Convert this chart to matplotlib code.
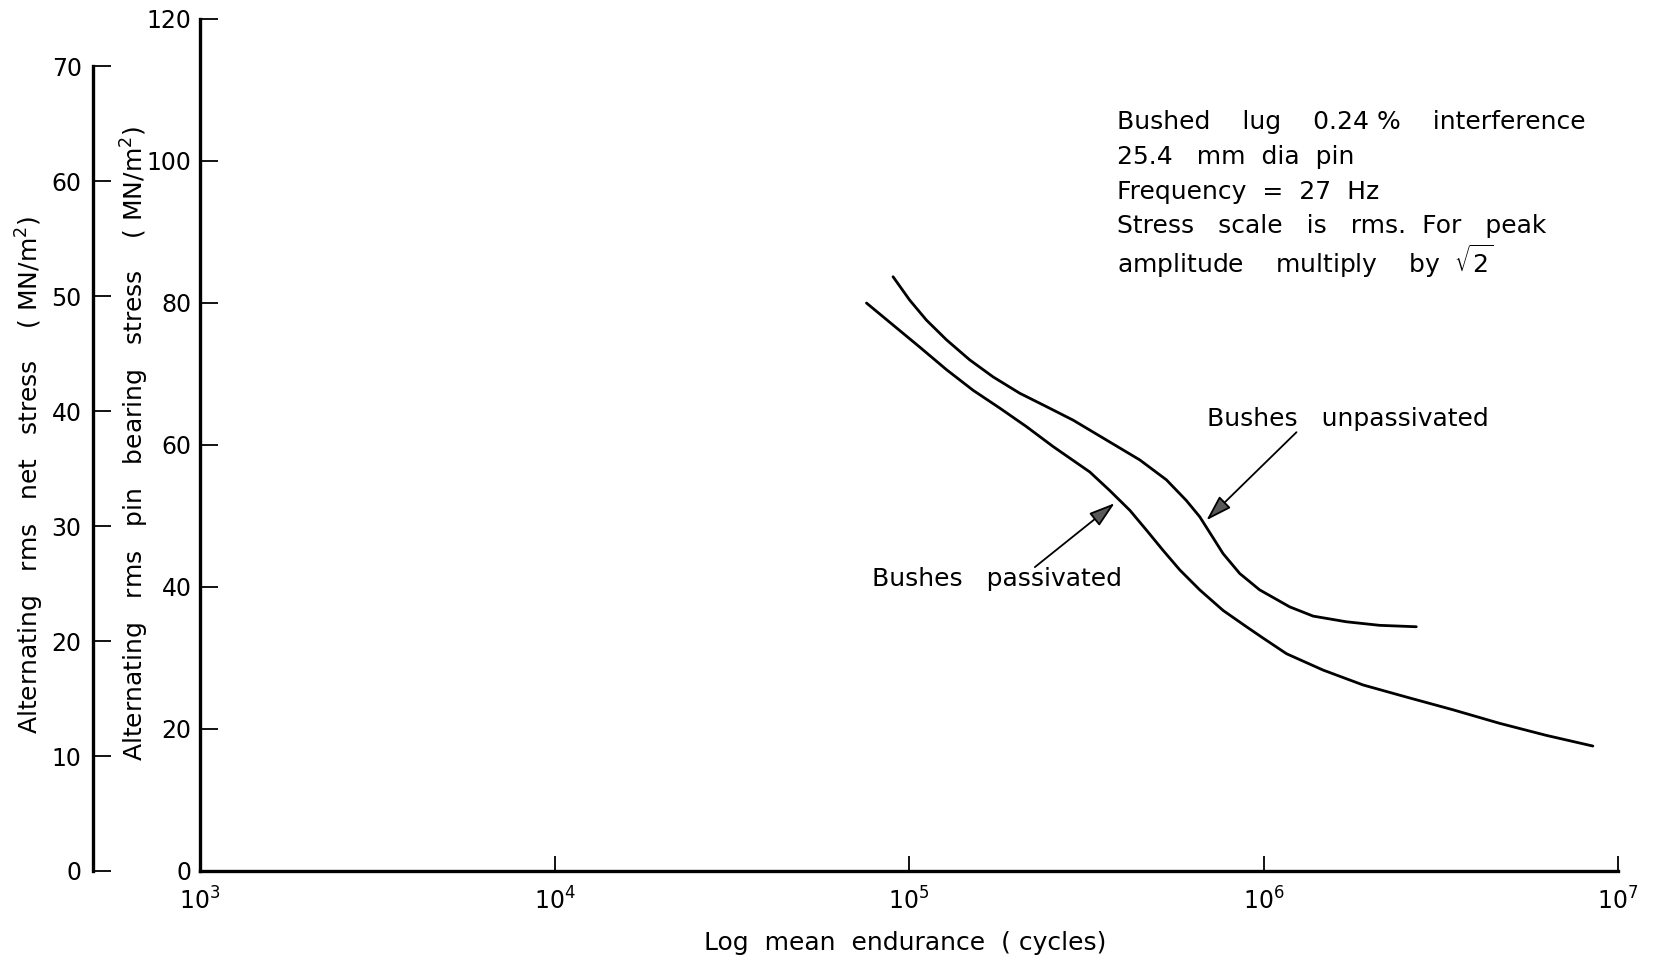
import numpy as np
import matplotlib
matplotlib.use("Agg")
import matplotlib.pyplot as plt
from matplotlib.patches import FancyArrowPatch

# ---- data ----
passivated_logN = [4.880, 4.955, 5.030, 5.106, 5.181, 5.256, 5.331, 5.406, 5.510, 5.566,
                   5.623, 5.670, 5.716, 5.764, 5.820, 5.886, 5.952, 5.999, 6.065, 6.168,
                   6.281, 6.403, 6.535, 6.666, 6.798, 6.929]
passivated_S = [80.0, 76.9, 73.8, 70.6, 67.7, 65.2, 62.6, 59.8, 56.2, 53.6,
                50.8, 48.0, 45.2, 42.4, 39.6, 36.7, 34.4, 32.8, 30.6, 28.3,
                26.2, 24.5, 22.7, 20.8, 19.1, 17.6]

unpassivated_logN = [4.955, 5.002, 5.049, 5.106, 5.171, 5.237, 5.312, 5.388, 5.463, 5.557,
                     5.651, 5.726, 5.782, 5.820, 5.848, 5.886, 5.933, 5.989, 6.074, 6.140,
                     6.234, 6.328, 6.431]
unpassivated_S = [83.7, 80.4, 77.6, 74.8, 72.0, 69.6, 67.3, 65.4, 63.5, 60.7,
                  57.9, 55.1, 52.2, 49.9, 47.7, 44.7, 41.9, 39.6, 37.2, 35.9,
                  35.1, 34.6, 34.4]

x_ticks = [1e3, 1e4, 1e5, 1e6, 1e7]
x_ticklabels = [r"$10^{3}$", r"$10^{4}$", r"$10^{5}$", r"$10^{6}$", r"$10^{7}$"]
bearing_ticks = [0, 20, 40, 60, 80, 100, 120]
net_ticks = [0, 10, 20, 30, 40, 50, 60, 70]

note_lines = [
    "Bushed    lug    0.24 %    interference",
    "25.4   mm  dia  pin",
    "Frequency  =  27  Hz",
    "Stress   scale   is   rms.  For   peak",
    r"amplitude    multiply    by  $\sqrt{2}$",
]

plt.rcParams['font.family'] = ['DejaVu Sans']
plt.rcParams['mathtext.fontset'] = 'dejavusans'
FS = 18
TFS = 17

W, H = 1653, 965
fig = plt.figure(figsize=(W / 100, H / 100), dpi=100)

left, right = 200 / W, 1618 / W
bottom, top = 1 - 871 / H, 1 - 19 / H
ax = fig.add_axes([left, bottom, right - left, top - bottom])

passivated_N = [10 ** v for v in passivated_logN]
unpassivated_N = [10 ** v for v in unpassivated_logN]
ax.plot(passivated_N, passivated_S, color="black", lw=2.0,
        solid_capstyle="round", solid_joinstyle="round")
ax.plot(unpassivated_N, unpassivated_S, color="black", lw=2.0,
        solid_capstyle="round", solid_joinstyle="round")

ax.set_xscale("log")
ax.set_xlim(1e3, 1e7)
ax.set_ylim(0, 120)
ax.set_xticks(x_ticks)
ax.set_xticklabels(x_ticklabels, fontsize=TFS)
ax.minorticks_off()
ax.set_yticks(bearing_ticks)
ax.set_yticklabels([str(v) for v in bearing_ticks], fontsize=TFS)
for s in ["top", "right"]:
    ax.spines[s].set_visible(False)
for s in ["left", "bottom"]:
    ax.spines[s].set_linewidth(2.4)
ax.tick_params(axis="y", direction="in", length=13, width=1.3, pad=6)
ax.tick_params(axis="x", direction="in", length=11, width=1.3, pad=12)

# secondary net-stress axis
bottom2 = bottom
top2 = 1 - 66.4 / H
ax2 = fig.add_axes([92.8 / W, bottom2, 0.02, top2 - bottom2])
ax2.set_ylim(0, 70)
ax2.set_yticks(net_ticks)
ax2.set_yticklabels([str(v) for v in net_ticks], fontsize=TFS)
ax2.set_xticks([])
for s in ["top", "right", "bottom"]:
    ax2.spines[s].set_visible(False)
ax2.spines["left"].set_linewidth(2.4)
ax2.tick_params(axis="y", direction="in", length=13, width=1.3, pad=8)
ax2.patch.set_alpha(0)

# axis labels
fig.text(30 / W, 1 - 475 / H, r"Alternating   rms   net   stress    ( MN/m$^2$)",
         rotation=90, ha="center", va="center", fontsize=FS)
fig.text(135 / W, 1 - 443 / H, r"Alternating   rms   pin   bearing   stress    ( MN/m$^2$)",
         rotation=90, ha="center", va="center", fontsize=FS)
fig.text(905 / W, 1 - 943 / H, "Log  mean  endurance  ( cycles)",
         ha="center", va="center", fontsize=FS)

# note block
for i, line in enumerate(note_lines):
    ax.text(0.647, 0.879 - i * 0.0408, line, transform=ax.transAxes,
            ha="left", va="center", fontsize=FS)

# annotations
def arrow(tail, head):
    p = FancyArrowPatch(tail, head, arrowstyle="-|>,head_length=0.8,head_width=0.25",
                        mutation_scale=20, lw=1.3, edgecolor="black", facecolor="0.35",
                        shrinkA=0, shrinkB=0)
    ax.add_patch(p)

arrow((10 ** 6.093, 61.8), (10 ** 5.839, 49.4))
arrow((10 ** 5.355, 42.8), (10 ** 5.580, 51.8))
ax.text(10 ** 5.840, 63.7, "Bushes   unpassivated", ha="left", va="center", fontsize=FS)
ax.text(10 ** 4.897, 41.1, "Bushes   passivated", ha="left", va="center", fontsize=FS)

fig.savefig("out.png", dpi=100)
